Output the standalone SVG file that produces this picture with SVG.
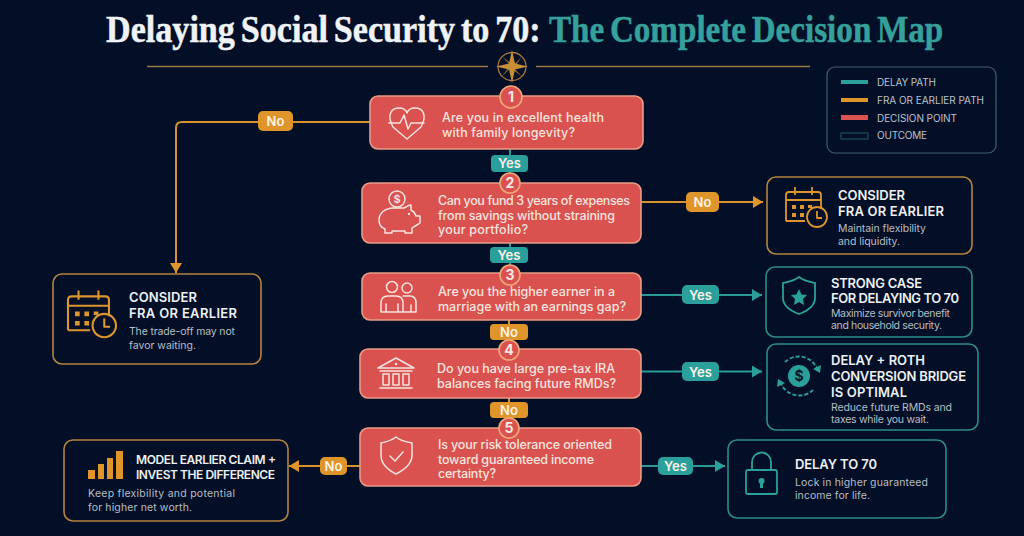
<svg xmlns="http://www.w3.org/2000/svg" width="1024" height="536" viewBox="0 0 1024 536">
<style>
text{font-family:Inter,"Liberation Sans",sans-serif}
.title{font-family:"Liberation Serif",serif;font-weight:700;font-size:38px;word-spacing:-3px;stroke-width:.5}
.q{fill:#da5250;stroke:#e99c88;stroke-width:1.6}
.qt{font-size:12.5px;fill:#f8e4de;font-weight:500}
.num{fill:#da5250;stroke:#f0a878;stroke-width:1.6}
.nt{font-size:14px;font-weight:700;fill:#fbe9e3;text-anchor:middle}
.oo{fill:#020f26;stroke:#b5843f;stroke-width:1.6}
.ot{fill:#020f26;stroke:#2c8c8a;stroke-width:1.6}
.h{font-size:13px;font-weight:600;fill:#eef0f2}
.b{font-size:10.5px;fill:#b8bec6}
.li{fill:none;stroke:#f8e4de;stroke-width:1.5;stroke-linejoin:round;stroke-linecap:round}
.io{fill:none;stroke:#dd952f;stroke-width:1.8;stroke-linejoin:round}
.it{fill:none;stroke:#2a9f9b;stroke-width:1.8;stroke-linejoin:round}
.co{fill:none;stroke:#d8952f;stroke-width:2}
.ct{fill:none;stroke:#2a9a96;stroke-width:2}
.bo{fill:#e0952b}
.bt{fill:#2a9f9b}
.bl{font-size:13px;font-weight:600;fill:#fdf3e6;text-anchor:middle}
.lg{font-size:10px;fill:#bcc4cc}
</style>
<defs>
<marker id="ao" markerUnits="userSpaceOnUse" markerWidth="11" markerHeight="13" refX="10" refY="6" orient="auto"><path d="M0 0L10 6L0 12Z" fill="#e0952b"/></marker>
<marker id="at" markerUnits="userSpaceOnUse" markerWidth="11" markerHeight="13" refX="10" refY="6" orient="auto"><path d="M0 0L10 6L0 12Z" fill="#2a9f9b"/></marker>
<g id="cal">
<path class="io" d="M0 31V5Q0 2 3 2H32Q35 2 35 5V19M0 10H35M0 31H19M9 -3V5M26 -3V5"/>
<path d="M6 15h4v4h-4zM14 15h4v4h-4zM22 15h4v3h-4zM6 23h4v4h-4zM14 23h4v4h-4z" fill="#dd952f"/>
<circle class="io" cx="31" cy="27" r="10" fill="#020f26"/>
<path class="io" d="M31 21V28H36"/>
</g>
</defs>
<rect width="1024" height="536" fill="#020f27"/>

<g id="header">
<text class="title" transform="translate(106 42) scale(.898 1)" fill="#f0f3f6" stroke="#f0f3f6">Delaying Social Security to 70:</text>
<text class="title" transform="translate(549 42) scale(.872 1)" fill="#35a09c" stroke="#35a09c">The Complete Decision Map</text>
<path d="M147 66.5H488M536 66.5H810" stroke="#9a7a45" stroke-width="1.4" fill="none"/>
<circle cx="512" cy="66.5" r="14" fill="none" stroke="#a87a3a" stroke-width="1.3"/>
<path d="M502 56.5L513.5 65L522 56.5L514 68L522 76.5L510.5 68L502 76.5L510 65Z" fill="#8f6a30"/>
<path d="M512 50L515 63.5L528 66.5L515 69.5L512 83L509 69.5L496 66.5L509 63.5Z" fill="#c98d35"/>
</g>

<g id="legend">
<rect x="827" y="67" width="169" height="86" rx="8" fill="none" stroke="#3e5f72" stroke-width="1.2"/>
<rect x="841" y="80" width="27" height="4" fill="#2a9f9b"/>
<rect x="841" y="98" width="27" height="4" fill="#e0952b"/>
<rect x="841" y="115" width="27" height="5" fill="#dd5350"/>
<rect x="841" y="133" width="27" height="6" fill="none" stroke="#1f5d63" stroke-width="1"/>
<text class="lg" x="877" y="86" textLength="59">DELAY PATH</text>
<text class="lg" x="877" y="103.500" textLength="107">FRA OR EARLIER PATH</text>
<text class="lg" x="877" y="121.500" textLength="80">DECISION POINT</text>
<text class="lg" x="877" y="139" textLength="50">OUTCOME</text>
</g>

<g id="connectors">
<path class="co" d="M370 122H182Q176 122 176 128V273" marker-end="url(#ao)"/>
<path class="ct" d="M510 149V183"/>
<path class="ct" d="M510 243V273"/>
<path class="co" d="M509 320V349"/>
<path class="co" d="M509 398V428"/>
<path class="co" d="M641 202H763" marker-end="url(#ao)"/>
<path class="ct" d="M641 295H762" marker-end="url(#at)"/>
<path class="ct" d="M641 371.500H762" marker-end="url(#at)"/>
<path class="ct" d="M641 466H725" marker-end="url(#at)"/>
<path class="co" d="M360 466H289" marker-end="url(#ao)"/>
<rect class="bo" x="258" y="111" width="35" height="20" rx="5"/><text class="bl" x="275.500" y="126">No</text>
<rect class="bt" x="491" y="155" width="37" height="17" rx="4"/><text class="bl" x="509.500" y="168">Yes</text>
<rect class="bt" x="490" y="247" width="38" height="16" rx="4"/><text class="bl" x="509" y="260">Yes</text>
<rect class="bo" x="490" y="324" width="38" height="16" rx="4"/><text class="bl" x="509" y="337">No</text>
<rect class="bo" x="490" y="402" width="38" height="16" rx="4"/><text class="bl" x="509" y="415">No</text>
<rect class="bo" x="686" y="192" width="33" height="20" rx="5"/><text class="bl" x="702.500" y="207">No</text>
<rect class="bt" x="682" y="285" width="37" height="19" rx="5"/><text class="bl" x="700.500" y="299.500">Yes</text>
<rect class="bt" x="682" y="362" width="37" height="19" rx="5"/><text class="bl" x="700.500" y="376.500">Yes</text>
<rect class="bt" x="658" y="457" width="35" height="18" rx="5"/><text class="bl" x="675.500" y="471">Yes</text>
<rect class="bo" x="320" y="457" width="27" height="18" rx="5"/><text class="bl" x="333.500" y="471">No</text>
</g>

<g id="q1">
<rect class="q" x="370" y="96" width="273" height="53" rx="8"/>
<circle class="num" cx="511" cy="97" r="11"/><text class="nt" x="511" y="102">1</text>
<path class="li" d="M393 127C386 114 392 108 399 108C403 108 406 110 407 113C408 110 411 108 415 108C422 108 428 114 421 127L407 139Z"/>
<path class="li" d="M389 123H400L404 115L408 129L411 123H424"/>
<text class="qt" x="442" y="122" textLength="162">Are you in excellent health</text>
<text class="qt" x="442" y="137" textLength="133">with family longevity?</text>
</g>
<g id="q2">
<rect class="q" x="362" y="183" width="279" height="60" rx="8"/>
<circle class="num" cx="510" cy="183" r="10"/><text class="nt" x="510" y="188">2</text>
<path class="li" d="M394 208C384 208 379 214 379 220C379 225 382 228 385 229V233H392V231H405V233H412V228C415 226 417 225 420 223V216H416C415 213 413 211 411 210V205C408 205 406 207 404 208Z"/>
<circle class="li" cx="397" cy="199" r="8" style="fill:#da5250"/>
<text x="397" y="203" font-size="11" font-weight="600" fill="#f8e4de" text-anchor="middle">$</text>
<circle cx="409" cy="214" r="1.200" fill="#f8e4de"/>
<text class="qt" x="438" y="205" textLength="192">Can you fund 3 years of expenses</text>
<text class="qt" x="438" y="220" textLength="177">from savings without straining</text>
<text class="qt" x="438" y="234" textLength="90">your portfolio?</text>
</g>
<g id="q3">
<rect class="q" x="362" y="273" width="279" height="47" rx="8"/>
<circle class="num" cx="510" cy="275" r="10"/><text class="nt" x="510" y="280">3</text>
<circle class="li" cx="392" cy="287" r="5.500"/><circle class="li" cx="407" cy="288" r="5"/>
<path class="li" d="M381 312V303Q381 296 388 296H396Q403 296 403 303V312ZM386 312V304M398 312V304M403 296H410Q416 296 416 303V312H403M411 312V305"/>
<text class="qt" x="438" y="296" textLength="177">Are you the higher earner in a</text>
<text class="qt" x="438" y="311" textLength="188">marriage with an earnings gap?</text>
</g>
<g id="q4">
<rect class="q" x="360" y="349" width="281" height="49" rx="8"/>
<circle class="num" cx="509" cy="350" r="10"/><text class="nt" x="509" y="355">4</text>
<path class="li" d="M378 368L396 358L414 368ZM380 371H412M383 374H389V385H383ZM393 374H399V385H393ZM403 374H409V385H403ZM380 388H412"/>
<circle cx="396" cy="364" r="1.300" fill="#f8e4de"/>
<text class="qt" x="437" y="373" textLength="178">Do you have large pre-tax IRA</text>
<text class="qt" x="437" y="388" textLength="179">balances facing future RMDs?</text>
</g>
<g id="q5">
<rect class="q" x="360" y="428" width="281" height="58" rx="8"/>
<circle class="num" cx="509" cy="428" r="10"/><text class="nt" x="509" y="433">5</text>
<path class="li" d="M396 437C391 441 386 442 381 443V455C381 464 388 470 396 474C404 470 412 464 412 455V443C406 442 401 441 396 437Z"/>
<path class="li" d="M390 456L395 461L403 452"/>
<text class="qt" x="438" y="449" textLength="174">Is your risk tolerance oriented</text>
<text class="qt" x="438" y="464" textLength="156">toward guaranteed income</text>
<text class="qt" x="438" y="478" textLength="58">certainty?</text>
</g>

<g id="outcome-fra-right">
<rect class="oo" x="767" y="177" width="205" height="77" rx="9"/>
<use href="#cal" x="786" y="190"/>
<text class="h" x="838" y="200" textLength="67">CONSIDER</text>
<text class="h" x="838" y="216" textLength="106">FRA OR EARLIER</text>
<text class="b" x="838" y="232" textLength="88">Maintain flexibility</text>
<text class="b" x="838" y="245" textLength="62">and liquidity.</text>
</g>
<g id="outcome-strong">
<rect class="ot" x="766" y="267" width="206" height="70" rx="9"/>
<path class="it" d="M799 277C794 281 788 282 783 283V298C783 306 791 311 799 314C807 311 815 306 815 298V283C810 282 804 281 799 277Z"/>
<path d="M799 289L801.500 294.500L807 295L803 299L804 305L799 302L794 305L795 299L791 295L796.500 294.500Z" fill="#2a9f9b"/>
<text class="h" x="831" y="288" textLength="91">STRONG CASE</text>
<text class="h" x="831" y="303" textLength="128">FOR DELAYING TO 70</text>
<text class="b" x="831" y="317" textLength="119">Maximize survivor benefit</text>
<text class="b" x="831" y="329" textLength="111">and household security.</text>
</g>
<g id="outcome-roth">
<rect class="ot" x="767" y="344" width="211" height="86" rx="9"/>
<circle cx="799" cy="376" r="11" fill="#2a9f9b"/>
<text x="799" y="381" font-size="14" font-weight="700" fill="#03162c" text-anchor="middle">$</text>
<path class="it" d="M785 362A20 20 0 0 1 818 371M813 390A20 20 0 0 1 780 381" stroke-dasharray="4 2"/>
<path d="M813 369L820 373L821 365ZM785 383L778 379L777 387Z" fill="#2a9f9b"/>
<text class="h" x="831" y="365" textLength="94">DELAY + ROTH</text>
<text class="h" x="831" y="381" textLength="135">CONVERSION BRIDGE</text>
<text class="h" x="831" y="397" textLength="76">IS OPTIMAL</text>
<text class="b" x="831" y="411" textLength="121">Reduce future RMDs and</text>
<text class="b" x="831" y="423" textLength="98">taxes while you wait.</text>
</g>
<g id="outcome-delay">
<rect class="ot" x="728" y="440" width="218" height="78" rx="9"/>
<rect class="it" x="746" y="470" width="31" height="24" rx="2"/>
<path class="it" d="M752 470V462A9.500 9.500 0 0 1 771 462V470"/>
<circle cx="761.500" cy="481" r="3" fill="#2a9f9b"/><rect x="760" y="482" width="3" height="6" fill="#2a9f9b"/>
<text class="h" x="795" y="469" textLength="82">DELAY TO 70</text>
<text class="b" x="795" y="486" textLength="133">Lock in higher guaranteed</text>
<text class="b" x="795" y="499" textLength="75">income for life.</text>
</g>
<g id="outcome-fra-left">
<rect class="oo" x="53" y="274" width="208" height="90" rx="9"/>
<use href="#cal" transform="translate(68 294) scale(1.17)"/>
<text class="h" x="129" y="302" textLength="68">CONSIDER</text>
<text class="h" x="129" y="318" textLength="108">FRA OR EARLIER</text>
<text class="b" x="129" y="335" textLength="106">The trade-off may not</text>
<text class="b" x="129" y="349" textLength="67">favor waiting.</text>
</g>
<g id="outcome-model">
<rect class="oo" x="64" y="440" width="224" height="81" rx="9"/>
<path d="M88 470h7v9h-7zM98 464h6v15h-6zM107 458h6v21h-6zM116 451h7v28h-7z" fill="#e0952b"/>
<text class="h" x="136" y="464" textLength="140" style="font-size:12px">MODEL EARLIER CLAIM +</text>
<text class="h" x="136" y="479" textLength="139" style="font-size:12px">INVEST THE DIFFERENCE</text>
<text class="b" x="88" y="497" textLength="147">Keep flexibility and potential</text>
<text class="b" x="88" y="511" textLength="104">for higher net worth.</text>
</g>
</svg>
